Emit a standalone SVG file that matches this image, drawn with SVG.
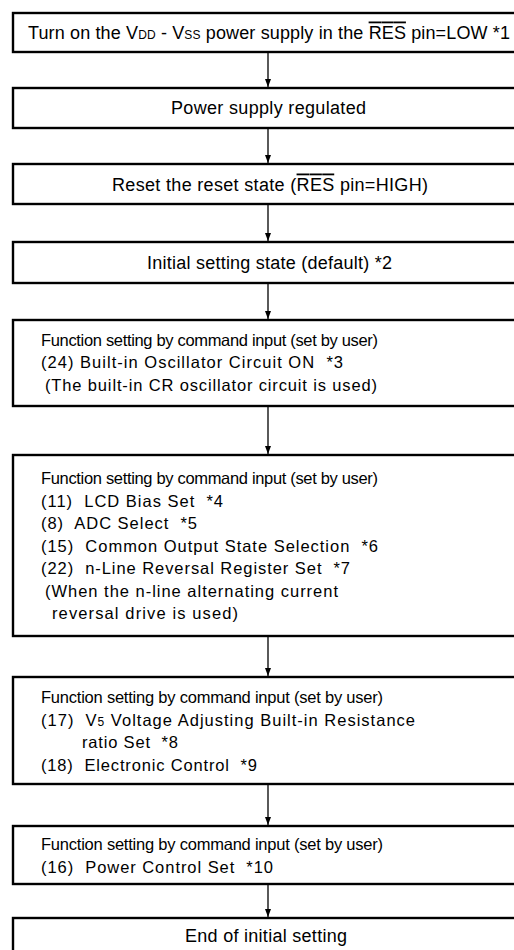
<svg xmlns="http://www.w3.org/2000/svg" width="514" height="950" viewBox="0 0 514 950">
<defs>
<style>
.box{fill:#fff;stroke:#000;stroke-width:2.4}
text{font-family:"Liberation Sans",Arial,sans-serif;font-size:16.5px;fill:#000}
.big{font-size:18px}
.sm{font-size:12px}
.ov{text-decoration:overline}
.con{stroke:#000;stroke-width:1.3;fill:none}
</style>
<marker id="ah" viewBox="0 0 8 6" refX="8" refY="3" markerWidth="8" markerHeight="6" markerUnits="userSpaceOnUse" orient="auto">
<path d="M0,0 L8,3 L0,6 Z" fill="#000"/>
</marker>
</defs>
<g id="connectors">
<line class="con" x1="268" y1="53" x2="268" y2="87" marker-end="url(#ah)"/>
<line class="con" x1="268" y1="129" x2="268" y2="163" marker-end="url(#ah)"/>
<line class="con" x1="268" y1="205" x2="268" y2="241" marker-end="url(#ah)"/>
<line class="con" x1="268" y1="284" x2="268" y2="319" marker-end="url(#ah)"/>
<line class="con" x1="268" y1="407" x2="268" y2="454" marker-end="url(#ah)"/>
<line class="con" x1="268" y1="637" x2="268" y2="676" marker-end="url(#ah)"/>
<line class="con" x1="268" y1="785" x2="268" y2="825" marker-end="url(#ah)"/>
<line class="con" x1="268" y1="885" x2="268" y2="917" marker-end="url(#ah)"/>
</g>
<g id="n1">
<rect class="box" x="13" y="13" width="512" height="39"/>
<text class="big" x="28" y="38.5" textLength="482" lengthAdjust="spacing" xml:space="preserve">Turn on the V<tspan class="sm">DD</tspan> - V<tspan class="sm">SS</tspan> power supply in the <tspan class="ov">RES</tspan> pin=LOW *1</text>
</g>
<g id="n2">
<rect class="box" x="13" y="88" width="512" height="40"/>
<text class="big" x="171" y="114" textLength="195" lengthAdjust="spacing">Power supply regulated</text>
</g>
<g id="n3">
<rect class="box" x="13" y="164" width="512" height="40"/>
<text class="big" x="112" y="190.5" textLength="316" lengthAdjust="spacing" xml:space="preserve">Reset the reset state (<tspan class="ov">RES</tspan> pin=HIGH)</text>
</g>
<g id="n4">
<rect class="box" x="13" y="242" width="512" height="41"/>
<text class="big" x="147" y="269" textLength="245" lengthAdjust="spacing">Initial setting state (default) *2</text>
</g>
<g id="n5">
<rect class="box" x="13" y="320" width="512" height="86"/>
<text x="41" y="345.5" textLength="337" lengthAdjust="spacing">Function setting by command input (set by user)</text>
<text x="41" y="368" textLength="302" lengthAdjust="spacing" xml:space="preserve">(24) Built-in Oscillator Circuit ON  *3</text>
<text x="45" y="390.5" textLength="332" lengthAdjust="spacing">(The built-in CR oscillator circuit is used)</text>
</g>
<g id="n6">
<rect class="box" x="13" y="455" width="512" height="181"/>
<text x="41" y="484" textLength="337" lengthAdjust="spacing">Function setting by command input (set by user)</text>
<text x="41" y="506.5" textLength="182" lengthAdjust="spacing" xml:space="preserve">(11)  LCD Bias Set  *4</text>
<text x="41" y="529" textLength="156" lengthAdjust="spacing" xml:space="preserve">(8)  ADC Select  *5</text>
<text x="41" y="551.5" textLength="337" lengthAdjust="spacing" xml:space="preserve">(15)  Common Output State Selection  *6</text>
<text x="41" y="574" textLength="309" lengthAdjust="spacing" xml:space="preserve">(22)  n-Line Reversal Register Set  *7</text>
<text x="45" y="596.5" textLength="293" lengthAdjust="spacing">(When the n-line alternating current</text>
<text x="52" y="619" textLength="186" lengthAdjust="spacing">reversal drive is used)</text>
</g>
<g id="n7">
<rect class="box" x="13" y="677" width="512" height="107"/>
<text x="41" y="703" textLength="342" lengthAdjust="spacing">Function setting by command input (set by user)</text>
<text x="41" y="725.5" textLength="374" lengthAdjust="spacing" xml:space="preserve">(17)  V<tspan class="sm">5</tspan> Voltage Adjusting Built-in Resistance</text>
<text x="82" y="748" textLength="96" lengthAdjust="spacing" xml:space="preserve">ratio Set  *8</text>
<text x="41" y="770.5" textLength="216" lengthAdjust="spacing" xml:space="preserve">(18)  Electronic Control  *9</text>
</g>
<g id="n8">
<rect class="box" x="13" y="826" width="512" height="58"/>
<text x="41" y="850" textLength="342" lengthAdjust="spacing">Function setting by command input (set by user)</text>
<text x="41" y="872.5" textLength="232" lengthAdjust="spacing" xml:space="preserve">(16)  Power Control Set  *10</text>
</g>
<g id="n9">
<rect class="box" x="13" y="918" width="512" height="50"/>
<text class="big" x="185" y="942" textLength="162" lengthAdjust="spacing">End of initial setting</text>
</g>
</svg>
